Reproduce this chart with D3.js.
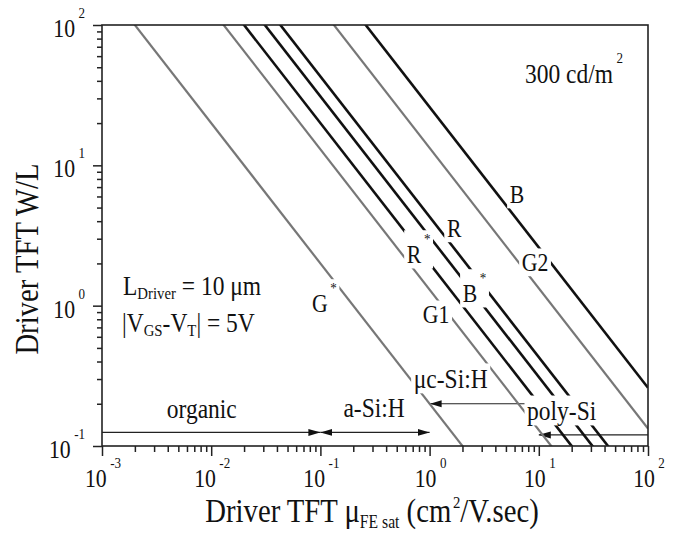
<!DOCTYPE html>
<html>
<head>
<meta charset="utf-8">
<script src="https://cdn.jsdelivr.net/npm/d3@7"></script>
<style>
  body { margin: 0; background: #fff; }
  svg text { font-family: "Liberation Serif", "Times New Roman", Times, serif; fill: #111; }
</style>
</head>
<body>
<div id="chart"></div>
<script>
// driver TFT lines: W/L = product / mu (straight lines of slope -1 on log-log)
const lineNames = ["G", "G1", "R", "B", "R", "G2", "B"];
const lineStars = [true, false, true, true, false, false, false];
const lineProducts = [0.2, 1.3, 2.0, 3.1, 4.3, 13.3, 26];
const lineColours = ["green", "green", "red", "blue", "red", "green", "blue"];

// where each line label sits (data units)
const labelMu = [0.0836, 0.867, 0.618, 2.01, 1.44, 6.98, 5.42];
const labelWL = [0.90, 0.753, 2.01, 1.06, 3.09, 1.77, 5.39];

// mobility ranges of TFT technologies
const regionNames = ["organic", "a-Si:H", "\u03bcc-Si:H", "poly-Si"];
const regionFrom = [0.001, 0.1, 1, 10];
const regionTo = [0.1, 1, 10, 100];
const regionWL = [0.125, 0.125, 0.2, 0.12];
const regionHeads = ["end", "both", "both", "start"];
const regionLabelMu = [0.0082, 0.31, 1.56, 16.2];
const regionLabelWL = [0.158, 0.161, 0.259, 0.153];

const xDecades = [-3, -2, -1, 0, 1, 2];
const yDecades = [-1, 0, 1, 2];

const width = 675, height = 533;
const margin = {left: 102, right: 27, top: 25, bottom: 87};
const squeeze = 0.87; // the figure's Times face is set narrow

const svg = d3.select('#chart').append('svg')
  .attr('width', width)
  .attr('height', height)
  .attr('font-family', '"Liberation Serif", "Times New Roman", Times, serif');

const x = d3.scaleLog().domain([1e-3, 1e2]).range([margin.left, width - margin.right]);
const y = d3.scaleLog().domain([0.1, 100]).range([height - margin.bottom, margin.top]);

const minorsOf = (decades) => {
  const out = [];
  decades.slice(0, -1).forEach(d => {
    for (let k = 2; k <= 9; k++) out.push(k * Math.pow(10, d));
  });
  return out;
};

// narrow text placed at px,py
const textAt = (px, py, size, rot) => {
  const g = svg.append('g')
    .attr('transform', `translate(${px},${py})${rot ? ` rotate(${rot})` : ''} scale(${squeeze},1)`);
  return g.append('text').attr('font-size', size);
};

// white box behind a label so it breaks the lines underneath
const halo = (t, pad) => {
  const b = t.node().getBBox();
  d3.select(t.node().parentNode).insert('rect', 'text')
    .attr('x', b.x - pad).attr('y', b.y - pad + 3)
    .attr('width', b.width + 2 * pad).attr('height', b.height + 2 * pad - 6)
    .attr('fill', '#fff');
};

svg.append('clipPath').attr('id', 'plot-clip')
  .append('rect')
  .attr('x', x.range()[0]).attr('y', y.range()[1])
  .attr('width', x.range()[1] - x.range()[0])
  .attr('height', y.range()[0] - y.range()[1]);

svg.append('defs').append('marker')
  .attr('id', 'head')
  .attr('markerUnits', 'userSpaceOnUse')
  .attr('viewBox', '0 -4 12 8')
  .attr('refX', 12).attr('refY', 0)
  .attr('markerWidth', 12).attr('markerHeight', 8)
  .attr('orient', 'auto-start-reverse')
  .append('path')
  .attr('d', 'M0,-3.5L12,0L0,3.5Z')
  .attr('fill', '#111');

const plot = svg.append('g').attr('clip-path', 'url(#plot-clip)');

// region arrows
regionNames.forEach((name, i) => {
  const h = regionHeads[i];
  plot.append('line')
    .attr('x1', x(regionFrom[i])).attr('x2', x(regionTo[i]))
    .attr('y1', y(regionWL[i])).attr('y2', y(regionWL[i]))
    .attr('stroke', '#222')
    .attr('stroke-width', 1.2)
    .attr('marker-start', h === 'start' || h === 'both' ? 'url(#head)' : null)
    .attr('marker-end', h === 'end' || h === 'both' ? 'url(#head)' : null);
});

// TFT lines
const line = d3.line().x(d => x(d[0])).y(d => y(d[1]));
lineProducts.forEach((p, i) => {
  const pts = x.domain().map(mu => [mu, p / mu]);
  plot.append('path')
    .attr('d', line(pts))
    .attr('fill', 'none')
    .attr('stroke', lineColours[i] === 'green' ? '#777' : '#111')
    .attr('stroke-width', lineColours[i] === 'green' ? 2.2 : 2.6);
});

// line labels
lineNames.forEach((name, i) => {
  const t = textAt(x(labelMu[i]), y(labelWL[i]), 25);
  t.append('tspan').text(name);
  if (lineStars[i]) {
    t.append('tspan').attr('dx', 3).attr('dy', -19).attr('font-size', 15).text('*');
  }
  halo(t, 3);
});

// region labels
regionNames.forEach((name, i) => {
  const t = textAt(x(regionLabelMu[i]), y(regionLabelWL[i]), 27)
    .attr('text-anchor', 'middle')
    .text(name);
  halo(t, 3);
});

// frame
svg.append('rect')
  .attr('x', x.range()[0]).attr('y', y.range()[1])
  .attr('width', x.range()[1] - x.range()[0])
  .attr('height', y.range()[0] - y.range()[1])
  .attr('fill', 'none')
  .attr('stroke', '#222')
  .attr('stroke-width', 1.6);

// axes
const xAxisG = svg.append('g').attr('transform', `translate(0,${y.range()[0]})`);
xAxisG.append('g').call(d3.axisBottom(x).tickValues(minorsOf(xDecades)).tickSize(6).tickFormat(''));
xAxisG.append('g').call(d3.axisBottom(x).tickValues(xDecades.map(d => Math.pow(10, d))).tickSize(10).tickFormat(''));

const yAxisG = svg.append('g').attr('transform', `translate(${x.range()[0]},0)`);
yAxisG.append('g').call(d3.axisLeft(y).tickValues(minorsOf(yDecades)).tickSize(5).tickFormat(''));
yAxisG.append('g').call(d3.axisLeft(y).tickValues(yDecades.map(d => Math.pow(10, d))).tickSize(9).tickFormat(''));

svg.selectAll('.domain').remove();
svg.selectAll('.tick line').attr('stroke', '#222').attr('stroke-width', 1.5);

// tick labels: 10 with superscript exponent
const powerLabel = (t, e) => {
  t.append('tspan').text('10');
  t.append('tspan').attr('dx', 4).attr('dy', -19).attr('font-size', 15).text(e);
};
xDecades.forEach(d => {
  const t = textAt(x(Math.pow(10, d)) + 1, y.range()[0] + 41, 25).attr('text-anchor', 'middle');
  powerLabel(t, d);
});
yDecades.forEach(d => {
  const t = textAt(x.range()[0] - 17, y(Math.pow(10, d)) + 12, 25).attr('text-anchor', 'end');
  powerLabel(t, d);
});

// axis titles
const xt = textAt(372, 522, 33).attr('text-anchor', 'middle');
xt.append('tspan').text('Driver TFT \u03bc');
xt.append('tspan').attr('dy', 6).attr('font-size', 18).text('FE sat');
xt.append('tspan').attr('dy', -6).text(' (cm');
xt.append('tspan').attr('dx', 2).attr('dy', -14).attr('font-size', 17).text('2');
xt.append('tspan').attr('dy', 14).text('/V.sec)');

textAt(38, 259, 33, -90)
  .attr('text-anchor', 'middle')
  .text('Driver TFT W/L');

// annotations
const lum = textAt(525, 83, 27);
lum.append('tspan').text('300 cd/m');
lum.append('tspan').attr('dx', 4).attr('dy', -20).attr('font-size', 15).text('2');

const l1 = textAt(123, 295, 27);
l1.append('tspan').text('L');
l1.append('tspan').attr('dy', 4).attr('font-size', 17).text('Driver');
l1.append('tspan').attr('dy', -4).text(' = 10 \u03bcm');

const l2 = textAt(122, 332, 27);
l2.append('tspan').text('|V');
l2.append('tspan').attr('dy', 4).attr('font-size', 17).text('GS');
l2.append('tspan').attr('dy', -4).text('-V');
l2.append('tspan').attr('dy', 4).attr('font-size', 17).text('T');
l2.append('tspan').attr('dy', -4).text('| = 5V');
</script>
</body>
</html>
